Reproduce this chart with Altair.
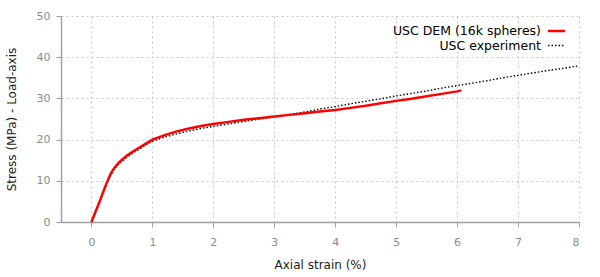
import altair as alt
import pandas as pd

# ---- data ----
exp_strain = [0.0, 0.05, 0.1, 0.15, 0.2, 0.25, 0.3, 0.35, 0.4, 0.45, 0.5, 0.6, 0.7, 0.8, 0.9,
              1.0, 1.2, 1.4, 1.6, 1.8, 2.0, 2.25, 2.5, 2.75, 3.0, 3.25, 3.5, 3.75, 4.0, 4.25,
              4.5, 4.75, 5.0, 5.25, 5.5, 5.75, 6.0, 6.25, 6.5, 6.75, 7.0, 7.25, 7.5, 7.75, 8.0]
exp_stress = [0.0, 1.8, 3.6, 5.5, 7.4, 9.3, 10.9, 12.3, 13.3, 14.1, 14.8, 15.9, 16.9, 17.8, 18.8,
              19.6, 20.6, 21.4, 22.1, 22.7, 23.2, 23.8, 24.4, 25.0, 25.5, 26.1, 26.7, 27.4, 28.0, 28.7,
              29.3, 29.9, 30.6, 31.2, 31.8, 32.5, 33.1, 33.7, 34.3, 35.0, 35.6, 36.2, 36.8, 37.3, 37.9]

dem_strain = [0.0, 0.05, 0.1, 0.15, 0.2, 0.25, 0.3, 0.35, 0.4, 0.45, 0.5, 0.6, 0.7, 0.8, 0.9,
              1.0, 1.2, 1.4, 1.6, 1.8, 2.0, 2.25, 2.5, 2.75, 3.0, 3.25, 3.5, 3.75, 4.0, 4.25,
              4.5, 4.75, 5.0, 5.25, 5.5, 5.75, 6.0, 6.07]
dem_stress = [0.0, 1.9, 3.7, 5.6, 7.6, 9.5, 11.2, 12.6, 13.6, 14.4, 15.1, 16.3, 17.3, 18.2, 19.1,
              20.0, 21.1, 22.0, 22.7, 23.3, 23.8, 24.3, 24.8, 25.2, 25.6, 26.0, 26.4, 26.8, 27.2, 27.7,
              28.2, 28.8, 29.4, 29.9, 30.5, 31.1, 31.7, 31.95]

x_ticks = [0, 1, 2, 3, 4, 5, 6, 7, 8]
y_ticks = [0, 10, 20, 30, 40, 50]

dem_label = "USC DEM (16k spheres)"
exp_label = "USC experiment"

exp_df = pd.DataFrame({"strain": exp_strain, "stress": exp_stress})
dem_df = pd.DataFrame({"strain": dem_strain, "stress": dem_stress})

W, H = 518, 206

x_enc = alt.X("strain:Q",
              scale=alt.Scale(domain=[-0.5, 8], nice=False, zero=False),
              axis=alt.Axis(values=x_ticks, title="Axial strain (%)", format="d",
                            labelPadding=9, titlePadding=12))
y_enc = alt.Y("stress:Q",
              scale=alt.Scale(domain=[0, 50], nice=False),
              axis=alt.Axis(values=y_ticks, title="Stress (MPa) - Load-axis",
                            labelPadding=6, titlePadding=18))

exp_line = alt.Chart(exp_df).mark_line(
    color="#000000", strokeWidth=1.4, strokeDash=[1.5, 2]
).encode(x=x_enc, y=y_enc)

dem_line = alt.Chart(dem_df).mark_line(
    color="#ff0000", strokeWidth=2.5
).encode(x=x_enc, y=y_enc)

leg_dem_df = pd.DataFrame({"label": [dem_label]})
leg_exp_df = pd.DataFrame({"label": [exp_label]})

leg_dem_text = alt.Chart(leg_dem_df).mark_text(
    align="right", baseline="middle", font="DejaVu Sans", fontSize=12.5, color="#000000"
).encode(text="label:N", x=alt.value(480), y=alt.value(15))
leg_exp_text = alt.Chart(leg_exp_df).mark_text(
    align="right", baseline="middle", font="DejaVu Sans", fontSize=12.5, color="#000000"
).encode(text="label:N", x=alt.value(480), y=alt.value(29.5))

leg_dem_sym = alt.Chart(leg_dem_df).mark_rule(
    color="#ff0000", strokeWidth=2.5
).encode(x=alt.value(487), x2=alt.value(504), y=alt.value(15))
leg_exp_sym = alt.Chart(leg_exp_df).mark_rule(
    color="#000000", strokeWidth=1.4, strokeDash=[1.5, 2]
).encode(x=alt.value(487), x2=alt.value(504), y=alt.value(29.5))

chart = alt.layer(
    exp_line, dem_line, leg_dem_text, leg_exp_text, leg_dem_sym, leg_exp_sym
).properties(
    width=W, height=H,
    autosize=alt.AutoSizeParams(type="none"),
    padding={"left": 61, "top": 16, "right": 21, "bottom": 55},
).configure_view(
    stroke=None
).configure_axis(
    grid=True, gridColor="#c8c8c8", gridDash=[2, 3], gridWidth=1,
    domainColor="#a0a0a0", domainWidth=1.5,
    tickColor="#a0a0a0", tickSize=5, tickWidth=1,
    labelColor="#8c8c8c", labelFont="DejaVu Sans", labelFontSize=11,
    titleColor="#222222", titleFont="DejaVu Sans", titleFontSize=12, titleFontWeight="normal",
)

chart.save("out.html", embed_options={"renderer": "svg", "actions": False})
